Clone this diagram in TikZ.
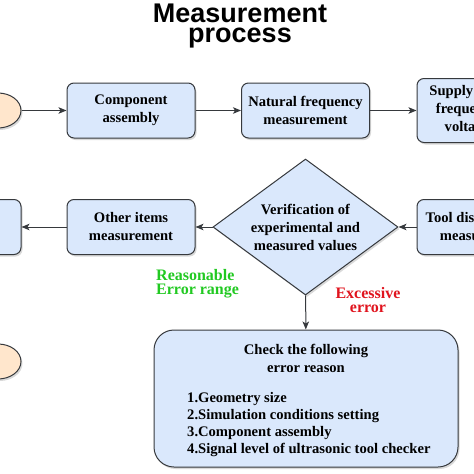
\documentclass[tikz,border=0pt]{standalone}
\usepackage{fontspec}
\setmainfont{Liberation Serif}
\newfontfamily\titlefont{Liberation Sans}
\usetikzlibrary{shapes.geometric,arrows.meta,shadows}
\definecolor{boxfill}{HTML}{DAE8FC}
\definecolor{termfill}{HTML}{FFE6CC}
\definecolor{edge}{HTML}{36393D}
\definecolor{okgreen}{HTML}{22C922}
\definecolor{badred}{HTML}{E0141E}

\begin{document}
\begin{tikzpicture}[x=1pt,y=-1pt,
    boxshadow/.style={drop shadow={shadow xshift=1.5pt,shadow yshift=-2pt,opacity=.3}},
    txt/.style={font=\fontsize{14.6}{18}\selectfont\bfseries},
    box/.style={rectangle,rounded corners=7pt,draw=edge,line width=1pt,fill=boxfill,boxshadow,
      align=center,minimum width=128pt,minimum height=55pt,inner sep=2pt,txt},
    decision/.style={diamond,aspect=1.36,draw=edge,line width=1pt,fill=boxfill,boxshadow,
      align=center,minimum width=185pt,minimum height=136pt,inner sep=0pt,txt},
    term/.style={ellipse,draw=edge,line width=1pt,fill=termfill,boxshadow,
      minimum width=46pt,minimum height=35pt},
    flow/.style={draw=edge,line width=1pt,-{Stealth[length=8pt,width=6.5pt,inset=2pt]}},
    note/.style={inner sep=0pt,font=\fontsize{16}{13.5}\selectfont\bfseries}]
  \useasboundingbox (0,0) rectangle (474,474);
  \clip (0,0) rectangle (474,474);
  % title
  \node[inner sep=0pt,align=center,font=\titlefont\bfseries\fontsize{27}{20}\selectfont] (title)
    at (240,26) {Measurement\\process};
  % first row
  \node[term] (start) at (-2,110.5) {};
  \node[box] (assembly) at (131,110.5) {Component\\assembly};
  \node[box] (natfreq) at (305.5,110.5) {Natural frequency\\measurement};
  \node[box,minimum width=100pt,minimum height=64pt] (supply) at (467,110.5) {Supply high\\frequency\\voltage};
  % second row
  \node[box,minimum width=130pt] (tooldisp) at (482,227) {Tool displacement\\measurement};
  \node[decision] (verify) at (305.5,227) {Verification of\\experimental and\\measured values};
  \node[box] (others) at (131,227) {Other items\\measurement};
  \node[box] (prev) at (-43,227) {};
  % third row
  \node[term] (finish) at (-2,361.5) {};
  \node[box,rounded corners=20pt,minimum width=304pt,minimum height=137pt] (check) at (306,398.5) {};
  \node[txt,inner sep=0pt,align=center] (reason) at (306,358) {Check the following\\error reason};
  \node[inner sep=0pt,align=left,anchor=west,font=\fontsize{14.6}{17.3}\selectfont\bfseries] (items) at (187,424.5)
    {1.Geometry size\\2.Simulation conditions setting\\3.Component assembly\\4.Signal level of ultrasonic tool checker};
  % branch labels
  \node[note,align=left,anchor=north west,text=okgreen] (okrange) at (156,269.5) {Reasonable\\Error range};
  \node[note,align=center,anchor=north,text=badred] (toobig) at (368,287.5) {Excessive\\error};
  % connectors
  \draw[flow] (start) -- (assembly);
  \draw[flow] (assembly) -- (natfreq);
  \draw[flow] (natfreq) -- (supply);
  \draw[flow] (tooldisp) -- (verify);
  \draw[flow] (verify) -- (others);
  \draw[flow] (others) -- (prev);
  \draw[flow] (verify) -- (check);
\end{tikzpicture}
\end{document}
